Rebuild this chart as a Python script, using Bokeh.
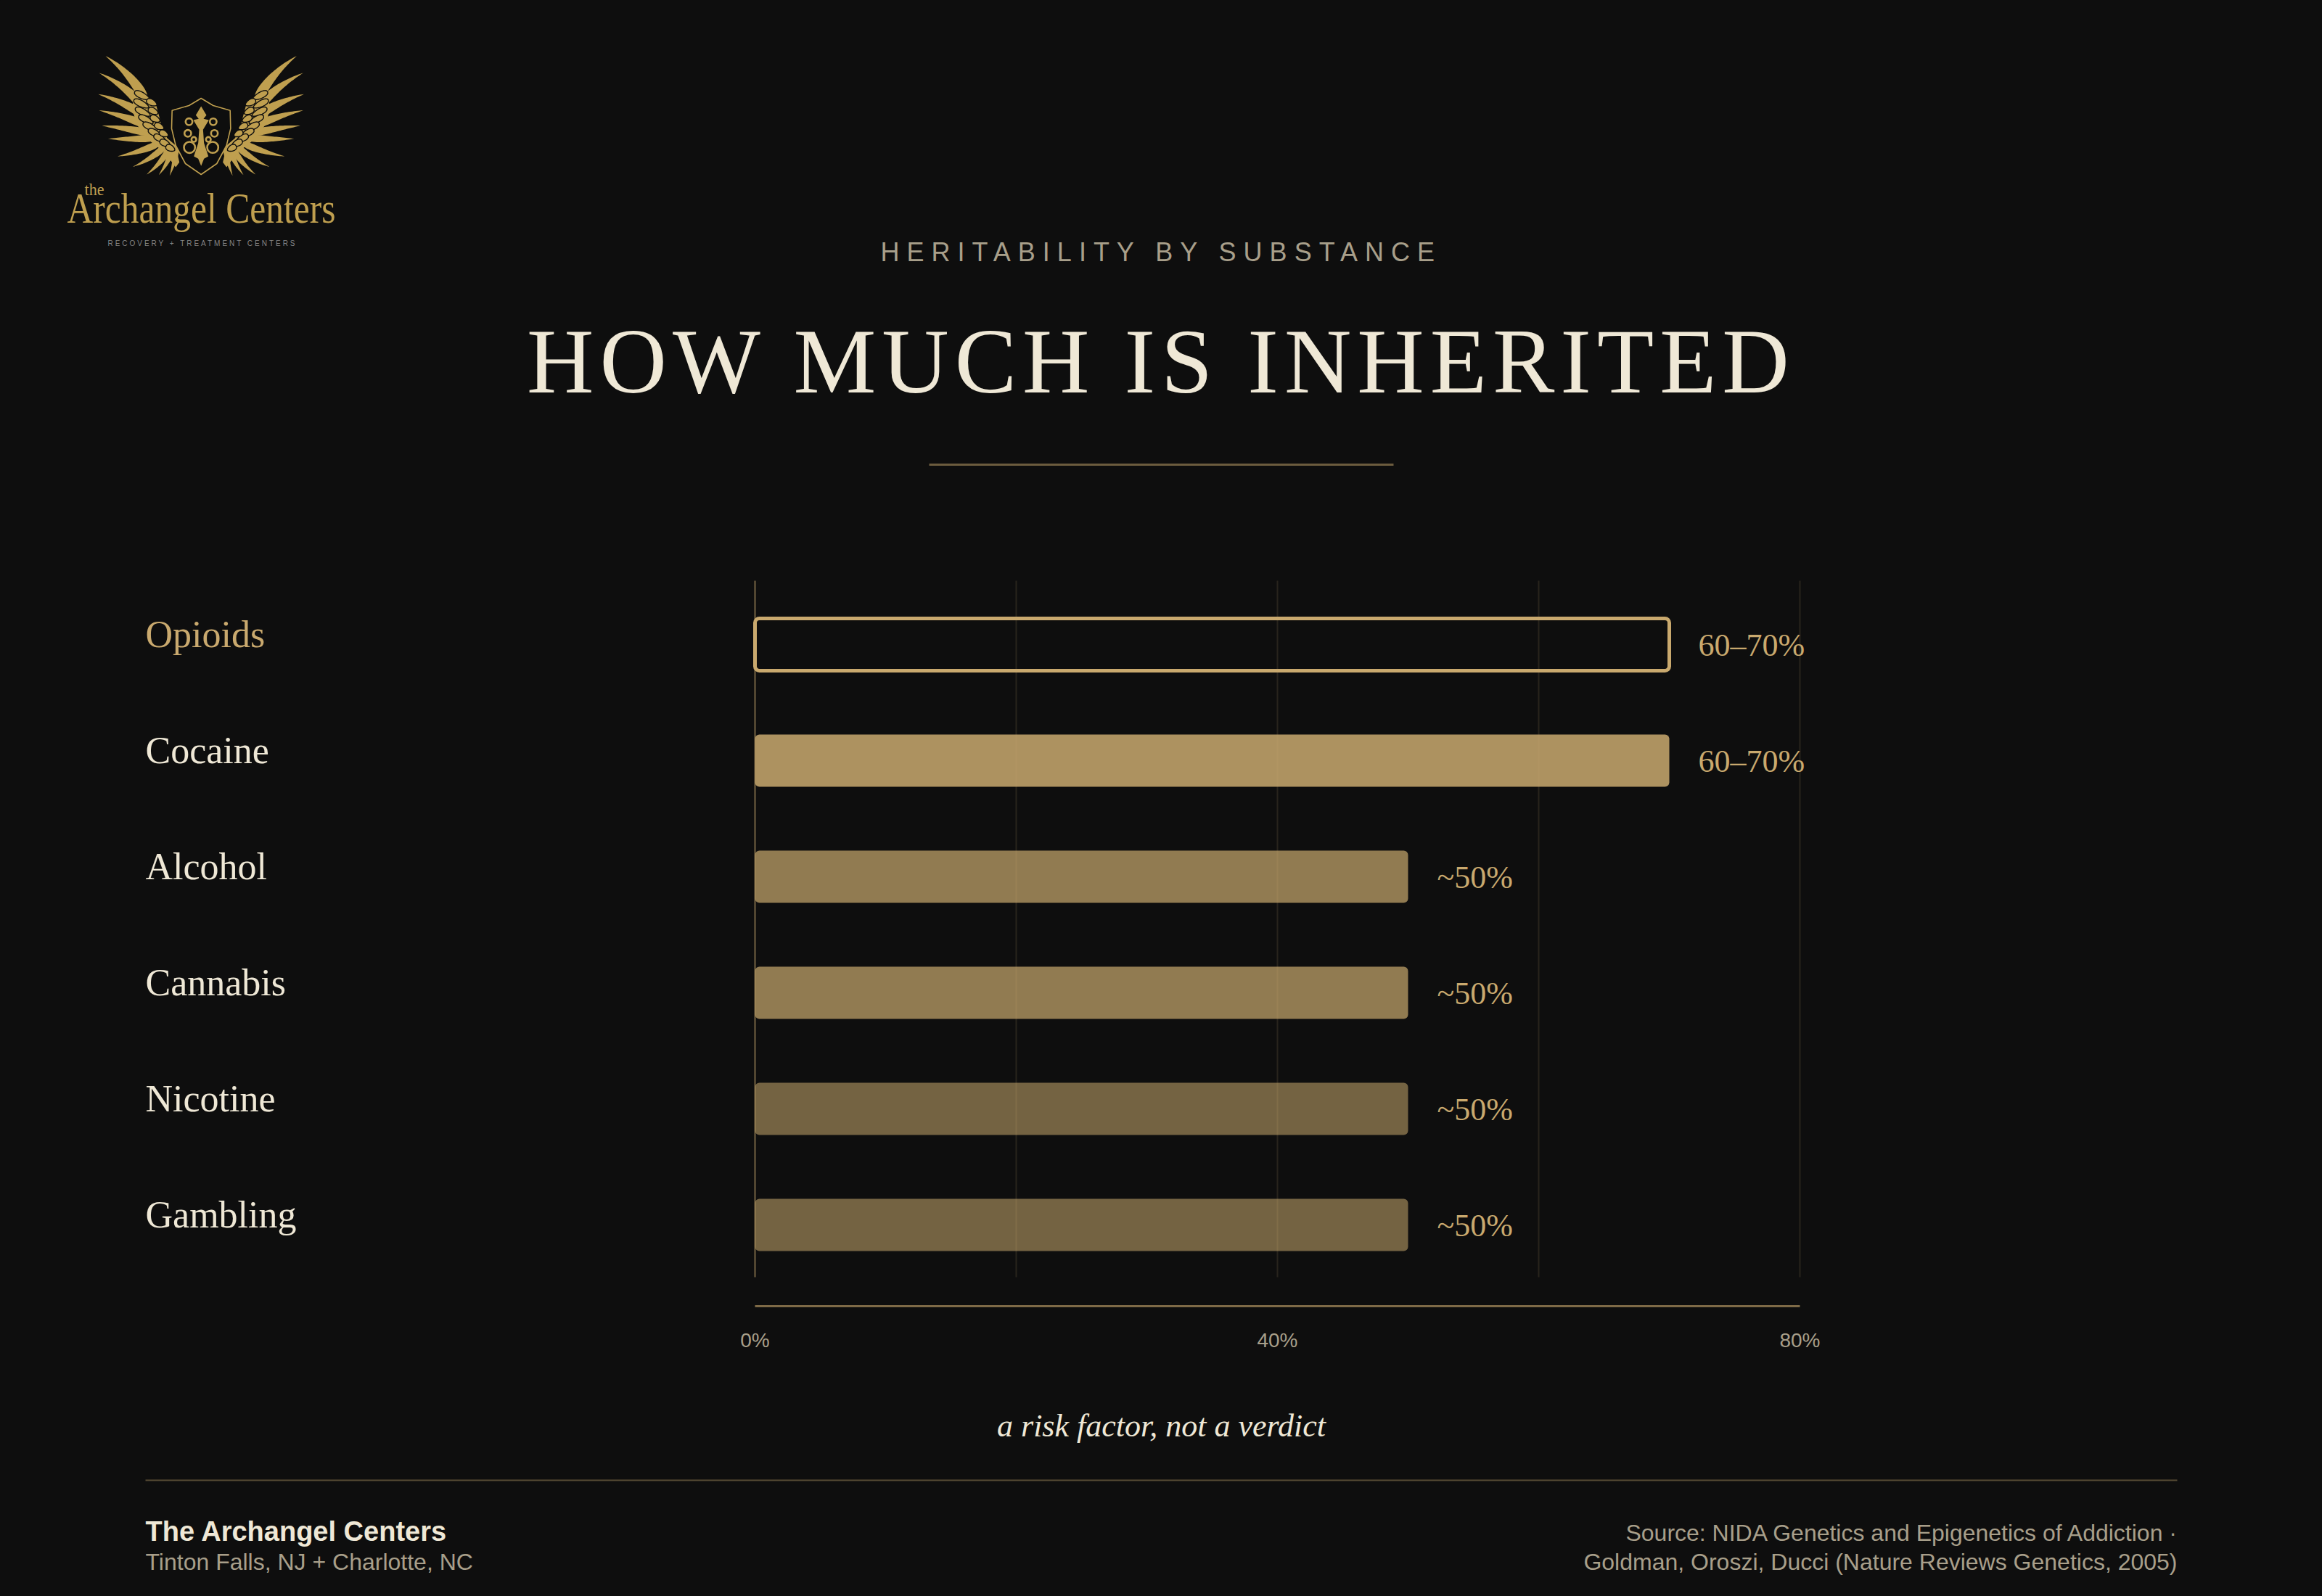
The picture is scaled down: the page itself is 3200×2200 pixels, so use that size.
import json
import numpy as np
from bokeh.plotting import figure
from bokeh.models import Range1d, LinearAxis, FixedTicker
from bokeh.core.properties import value
from bokeh.embed import file_html
from bokeh.resources import INLINE

# ---- data
substances = ["Opioids", "Cocaine", "Alcohol", "Cannabis", "Nicotine", "Gambling"]
heritability = [70, 70, 50, 50, 50, 50]
value_labels = ["60–70%", "60–70%", "~50%", "~50%", "~50%", "~50%"]
bar_alpha = [0.0, 0.85, 0.7, 0.7, 0.55, 0.55]
grid_ticks = [0, 20, 40, 60, 80]
axis_ticks = [0, 40, 80]
axis_tick_labels = {0: "0%", 40: "40%", 80: "80%"}

BG = "#0e0e0e"
GOLD = "#c9a96e"
CREAM = "#efe8d6"
MUTED = "#a89f8a"
LOGO = "#bf9f4f"
SERIF = "Liberation Serif"
SANS = "Liberation Sans"

W, H = 3200, 2200
# scales: x in percent, y in row index
X0, XK = 1040, 18.0
Y0, YK = 888, 160.0
BASE = 0.345  # baseline correction, in em


def dx(px):
    return (px - X0) / XK


def dy(py):
    return (py - Y0) / YK


p = figure(width=W, height=H, output_backend="svg", toolbar_location=None,
           x_range=Range1d(dx(0), dx(W)), y_range=Range1d(dy(H), dy(0)),
           x_axis_location=None, y_axis_location=None, min_border=0,
           background_fill_color=BG, border_fill_color=BG, outline_line_color=None)
p.grid.visible = False

n = len(substances)
rows = list(range(n))
top, bottom = dy(800), dy(1760)

# grid
p.segment(x0=grid_ticks[1:], x1=grid_ticks[1:], y0=[top] * 4, y1=[bottom] * 4,
          line_color=GOLD, line_alpha=0.14, line_width=2)
p.segment(x0=grid_ticks[:1], x1=grid_ticks[:1], y0=[top], y1=[bottom],
          line_color=GOLD, line_alpha=0.55, line_width=2)

# bars
p.hbar(y=rows[1:], left=0, right=heritability[1:], height=72 / YK, fill_color=GOLD,
       fill_alpha=bar_alpha[1:], line_color=None, border_radius=6)
p.hbar(y=rows[:1], left=0, right=heritability[:1], height=72 / YK, fill_color=None,
       line_color=GOLD, line_width=5, border_radius=6)

# axis
ax = LinearAxis(fixed_location=dy(1800), bounds=(0, 80), ticker=FixedTicker(ticks=axis_ticks),
                major_label_overrides=axis_tick_labels,
                axis_line_color=GOLD, axis_line_alpha=0.6, axis_line_width=3,
                major_tick_line_color=None, minor_tick_line_color=None,
                major_label_standoff=25, major_label_text_color=MUTED,
                major_label_text_font=SANS, major_label_text_font_size="28px")
p.add_layout(ax, "below")


def txt(px, py, s, size, color, font=SERIF, align="left", style="normal"):
    p.text(x=[dx(px)], y=[dy(py - BASE * size)], text=[s], text_font=value(font), text_font_size=f"{size}px",
           text_color=color, text_align=align, text_baseline="alphabetic", text_font_style=style)


# substance labels & values
p.text(x=[dx(200)] * n, y=[r + (4 - BASE * 52) / YK for r in rows], text=substances, text_font=value(SERIF),
       text_font_size="52px", text_color=[GOLD] + [CREAM] * 5, text_align="left", text_baseline="alphabetic")
p.text(x=[h + 40 / XK for h in heritability], y=[r + (16 - BASE * 44) / YK for r in rows], text=value_labels,
       text_font=value(SERIF), text_font_size="44px", text_color=GOLD, text_align="left",
       text_baseline="alphabetic")

# headings
SPACED = {"HERITABILITY BY SUBSTANCE": 10.0, "HOW MUCH IS INHERITED": 8}
FITTED = {"Archangel Centers": [370, "spacingAndGlyphs"], "the": [27, "spacingAndGlyphs"],
          "RECOVERY + TREATMENT CENTERS": [258, "spacing"]}
txt(1213, 359, "HERITABILITY BY SUBSTANCE", 36, MUTED, SANS)
txt(725.5, 542, "HOW MUCH IS INHERITED", 128, CREAM)
p.segment(x0=[dx(1280)], x1=[dx(1920)], y0=[dy(640)], y1=[dy(640)], line_color=GOLD, line_alpha=0.5, line_width=3)

# tagline + footer
txt(1600, 1980, "a risk factor, not a verdict", 44, CREAM, align="center", style="italic")
p.segment(x0=[dx(200)], x1=[dx(3000)], y0=[dy(2040)], y1=[dy(2040)], line_color=GOLD, line_alpha=0.4, line_width=2)
txt(200, 2124, "The Archangel Centers", 38, CREAM, SANS, style="bold")
txt(200, 2164, "Tinton Falls, NJ + Charlotte, NC", 32, MUTED, SANS)
txt(3003, 2124, "Source: NIDA Genetics and Epigenetics of Addiction ·", 32, MUTED, SANS, align="right")
txt(3000, 2164, "Goldman, Oroszi, Ducci (Nature Reviews Genetics, 2005)", 32, MUTED, SANS, align="right")


# ---- logo (decoration, in logo-local units of 1/3 px)
def lx(z):
    return dx(60 + np.asarray(z, float) / 3)


def ly(z):
    return dy(50 + np.asarray(z, float) / 3)


def feather(tip, root, w, bend, pointed=True):
    tip, root = np.array(tip, float), np.array(root, float)
    t = np.linspace(0, 1, 30)
    d = root - tip
    nrm = np.array([-d[1], d[0]]) / np.hypot(*d)
    spine = tip[None, :] + t[:, None] * d[None, :] + (4 * t * (1 - t) * bend)[:, None] * nrm[None, :]
    if pointed:
        prof = w * t ** 0.9 * np.sqrt(np.clip(1 - t ** 6, 0, 1))
    else:
        prof = w * np.sin(np.pi * t ** 0.75) ** 0.55
    a = spine + prof[:, None] * nrm[None, :] / 2
    b = spine - prof[:, None] * nrm[None, :] / 2
    pts = np.vstack([a, b[::-1]])
    return pts[:, 0], pts[:, 1]


FEATHERS = [((255, 80), (425, 270), 58, -16), ((228, 150), (420, 300), 54, -14), ((225, 238), (420, 330), 50, -9),
            ((228, 305), (430, 370), 46, -6), ((240, 368), (440, 400), 44, -3), ((265, 422), (460, 420), 42, 2),
            ((305, 495), (480, 440), 40, 6), ((368, 538), (505, 450), 38, 8), ((425, 570), (520, 460), 36, 8),
            ((475, 572), (530, 465), 32, 6), ((520, 575), (550, 460), 30, 3)]
COVERTS = [(375, 228, 62), (372, 262, 62), (378, 296, 62), (392, 328, 60), (410, 358, 58), (432, 385, 52),
           (455, 408, 48), (480, 430, 42), (505, 452, 36), (425, 262, 42), (432, 298, 40), (440, 330, 40),
           (458, 362, 38), (478, 392, 36)]
SHOULDER_X = np.array([375, 420, 462, 478, 490, 510, 545, 560, 545, 500, 430, 385, 365])
SHOULDER_Y = np.array([225, 240, 275, 335, 385, 420, 450, 520, 540, 480, 425, 365, 300])


def mirrored(fx):
    return 1300 - fx


xs, ys = [], []
for side in (0, 1):
    for tip, root, w, b in FEATHERS:
        fx, fy = feather(tip, root, w, b)
        xs.append(lx(mirrored(fx) if side else fx))
        ys.append(ly(fy))
    xs.append(lx(mirrored(SHOULDER_X) if side else SHOULDER_X))
    ys.append(ly(SHOULDER_Y))
p.patches(xs=xs, ys=ys, fill_color=LOGO, line_color=None)
xs, ys = [], []
for side in (0, 1):
    for cx, cy, L in COVERTS:
        fx, fy = feather((cx, cy), (cx + L, cy + L * 0.5), 26, 0, pointed=False)
        xs.append(lx(mirrored(fx) if side else fx))
        ys.append(ly(fy))
p.patches(xs=xs, ys=ys, fill_color=LOGO, line_color=BG, line_width=1.4)

sx = np.array([650, 700, 770, 772, 755, 715, 650, 585, 545, 528, 530, 600])
sy = np.array([255, 285, 305, 380, 450, 525, 570, 525, 450, 380, 305, 285])
p.patch(lx(sx), ly(sy), fill_color=BG, line_color=LOGO, line_width=1.6)
ox = np.array([650, 672, 660, 682, 658, 662, 680, 662, 650, 638, 620, 638, 642, 618, 640, 628])
oy = np.array([288, 325, 340, 345, 385, 440, 495, 505, 535, 505, 495, 440, 385, 345, 340, 325])
p.patch(lx(ox), ly(oy), fill_color=LOGO, line_color=None)
for side in (-1, 1):
    cxs = 650 + side * np.array([50, 55, 48, 30])
    cys = [352, 400, 458, 425]
    p.circle(x=lx(cxs), y=ly(cys), radius=[14 / 54, 14 / 54, 23 / 54, 10 / 54], radius_units="data",
             fill_color=None, line_color=LOGO, line_width=2.6)

txt(116, 269, "the", 24, LOGO)
txt(92, 307, "Archangel Centers", 60, LOGO)
txt(148, 338, "RECOVERY + TREATMENT CENTERS", 10, "#858585", SANS)

JS = """
<script>
(function () {
  const sp = %s, fit = %s;
  function walk(root, out) {
    for (const el of root.querySelectorAll('*')) {
      if (el.tagName && el.tagName.toLowerCase() === 'text') out.push(el);
      if (el.shadowRoot) walk(el.shadowRoot, out);
    }
    return out;
  }
  let n = 0;
  const id = setInterval(() => {
    for (const t of walk(document, [])) {
      const k = t.textContent;
      if (sp[k] !== undefined) t.style.letterSpacing = sp[k] + 'px';
      if (fit[k] !== undefined) {
        t.setAttribute('textLength', fit[k][0]);
        t.setAttribute('lengthAdjust', fit[k][1]);
      }
    }
    if (++n > 100) clearInterval(id);
  }, 50);
})();
</script>
""" % (json.dumps(SPACED), json.dumps(FITTED))

html = file_html(p, INLINE, title="How much is inherited")
html = html.replace("<head>", "<head><style>html,body{background:%s;margin:0;overflow:hidden}</style>" % BG, 1)
html = html.replace("</body>", JS + "</body>", 1)
open("out.html", "w").write(html)
